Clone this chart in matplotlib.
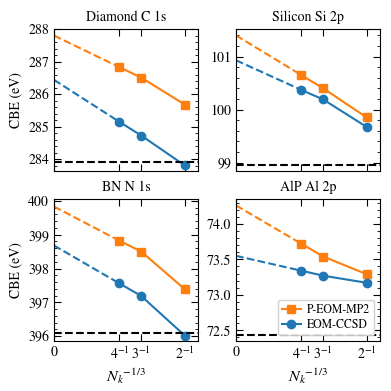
import matplotlib
matplotlib.use("Agg")
import matplotlib.pyplot as plt
from matplotlib.ticker import AutoMinorLocator

plt.rcParams['font.family'] = ['STIXGeneral', 'DejaVu Serif']
plt.rcParams['mathtext.fontset'] = 'stix'
plt.rcParams['font.size'] = 10

x_pts = [1/4, 1/3, 1/2]
x_ticks = [0, 1/4, 1/3, 1/2]
x_ticklabels = ['0', r'$4^{-1}$', r'$3^{-1}$', r'$2^{-1}$']

titles = ['Diamond C 1s', 'Silicon Si 2p', 'BN N 1s', 'AlP Al 2p']
mp2 = [[286.83, 286.51, 285.68], [100.65, 100.40, 99.85],
       [398.82, 398.50, 397.39], [73.72, 73.54, 73.29]]
mp2_extrap = [287.80, 101.40, 399.83, 74.26]
ccsd = [[285.15, 284.73, 283.81], [100.37, 100.19, 99.67],
        [397.56, 397.19, 396.02], [73.34, 73.27, 73.17]]
ccsd_extrap = [286.44, 100.93, 398.68, 73.55]
reference = [283.93, 98.95, 396.11, 72.44]
ylims = [(283.64, 288.0), (98.84, 101.52), (395.86, 400.05), (72.35, 74.35)]
yticks = [[284, 285, 286, 287, 288], [99, 100, 101],
          [396, 397, 398, 399, 400], [72.5, 73.0, 73.5, 74.0]]

orange = '#ff7f0e'
blue = '#1f77b4'

fig = plt.figure(figsize=(3.91, 3.91), dpi=100)
lefts = [0.138, 0.6036, 0.138, 0.6036]
bottoms = [0.5627, 0.5627, 0.1279, 0.1279]
w, h = 0.368, 0.363

for i in range(4):
    ax = fig.add_axes([lefts[i], bottoms[i], w, h])
    ax.plot([0, x_pts[0]], [mp2_extrap[i], mp2[i][0]], '--', color=orange, lw=1.5)
    ax.plot([0, x_pts[0]], [ccsd_extrap[i], ccsd[i][0]], '--', color=blue, lw=1.5)
    ax.plot(x_pts, mp2[i], '-s', color=orange, lw=1.5, ms=6, label='P-EOM-MP2')
    ax.plot(x_pts, ccsd[i], '-o', color=blue, lw=1.5, ms=6, label='EOM-CCSD')
    ax.axhline(reference[i], color='black', ls='--', lw=1.5)
    ax.set_xlim(0, 0.55)
    ax.set_ylim(*ylims[i])
    ax.set_xticks(x_ticks)
    ax.set_yticks(yticks[i])
    if i == 3:
        ax.set_yticklabels(['72.5', '73.0', '73.5', '74.0'])
    ax.yaxis.set_minor_locator(AutoMinorLocator())
    ax.tick_params(which='both', direction='in', top=True, right=True)
    ax.tick_params(which='major', length=5, width=0.8)
    ax.tick_params(which='minor', length=2.5, width=0.6)
    ax.set_title(titles[i], fontsize=10, pad=6)
    if i >= 2:
        ax.set_xticklabels(x_ticklabels)
        ax.set_xlabel(r'$N_k{}^{-1/3}$', fontsize=11.5, labelpad=3)
    else:
        ax.set_xticklabels([])
    if i % 2 == 0:
        ax.set_ylabel('CBE (eV)')
    if i == 3:
        ax.legend(loc='lower right', fontsize=8.5, framealpha=0.9,
                  handlelength=1.6, handletextpad=0.5, borderpad=0.35,
                  labelspacing=0.3, borderaxespad=0.5)

fig.savefig('out.png', dpi=100)
